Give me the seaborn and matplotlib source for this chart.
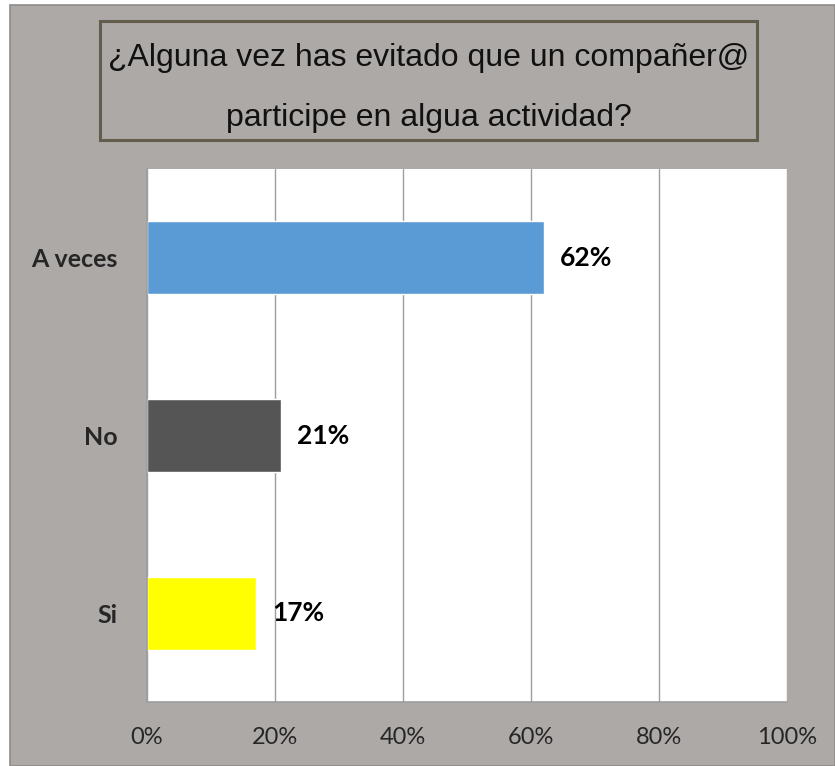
import matplotlib
matplotlib.use("Agg")
import matplotlib.pyplot as plt
import seaborn as sns
import pandas as pd
from matplotlib.patches import Rectangle

categories = ["A veces", "No", "Si"]
values = [62, 21, 17]
colors = ["#5B9BD5", "#555555", "#FFFF00"]
xticks = [0, 20, 40, 60, 80, 100]
xticklabels = ["0%", "20%", "40%", "60%", "80%", "100%"]
title_lines = ["¿Alguna vez has evitado que un compañer@", "participe en algua actividad?"]

sns.set_theme(style="white")
plt.rcParams['font.family'] = ['Lato', 'DejaVu Sans']

bg = "#ADA9A7"
W, H = 835, 766
fig = plt.figure(figsize=(8.35, 7.66), dpi=100, facecolor="white")

# gray chart area with thin border on left/top
fig.patches.append(Rectangle((10 / W, 0), (W - 10) / W, (H - 5) / H,
                             transform=fig.transFigure, facecolor=bg, edgecolor="#8E8A88",
                             linewidth=1.2, zorder=-10))

ax = fig.add_axes([147 / W, 1 - 702 / H, (787 - 147) / W, (702 - 169) / H])
ax.set_zorder(1)
ax.set_facecolor("white")

df = pd.DataFrame({"cat": categories, "val": values})
sns.barplot(data=df, x="val", y="cat", hue="cat", palette=colors, legend=False,
            orient="h", width=0.41, ax=ax, saturation=1)

ax.set_xlim(0, 100)
ax.set_ylim(2.5, -0.5)
ax.set_xticks(xticks)
ax.set_xticklabels(xticklabels, fontsize=17)
ax.set_xlabel("")
ax.set_ylabel("")
ax.grid(axis="x", color="#9E9E9E", linewidth=1)
ax.set_axisbelow(True)
for s in ["top", "right"]:
    ax.spines[s].set_visible(False)
for s in ["left", "bottom"]:
    ax.spines[s].set_color("#9E9E9E")
    ax.spines[s].set_linewidth(1.2)

ax.set_yticks(range(len(categories)))
ax.set_yticklabels(categories, fontsize=18, fontweight="bold")
ax.tick_params(axis="y", length=0, pad=21)
ax.set_yticks([-0.5, 0.5, 1.5, 2.5], minor=True)
ax.tick_params(axis="y", which="minor", length=7, color="#9E9E9E", width=1.2)
ax.tick_params(axis="x", length=6, color="#9E9E9E", width=1.2, pad=12, direction="out")

for i, v in enumerate(values):
    ax.text(v + 2.5, i, f"{v}%", va="center", ha="left", fontsize=19, fontweight="bold", color="black")

# title box
cx = 0.5 * (100 + 757) / W
for line, base in zip(title_lines, [66, 126]):
    fig.text(cx, 1 - base / H, line, ha="center", va="baseline",
             fontsize=23, family=["Liberation Sans", "DejaVu Sans"], color="#111111")
fig.patches.append(Rectangle((100 / W, 1 - 140 / H), (757 - 100) / W, (140 - 21) / H,
                             transform=fig.transFigure, fill=False, edgecolor="#625D4D", linewidth=2.2))

fig.savefig("out.png", dpi=100, facecolor="white")
